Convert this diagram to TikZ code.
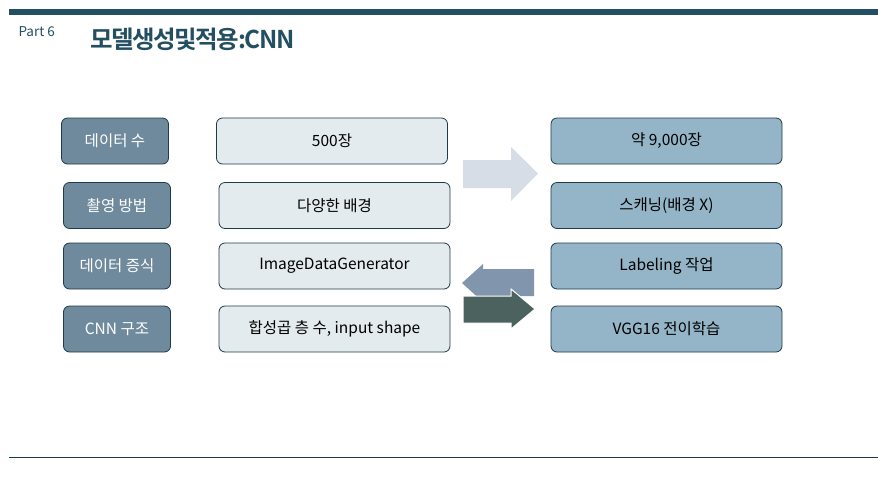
\documentclass[tikz,border=0pt]{standalone}
\usepackage{fontspec}
\setmainfont{Noto Sans CJK KR}[BoldFont=* Bold]
\usetikzlibrary{positioning}
\definecolor{barblue}{HTML}{244F62}
\definecolor{keybox}{HTML}{6E8A9C}
\definecolor{oldbox}{HTML}{E4EBEE}
\definecolor{newbox}{HTML}{93B5C7}
\definecolor{edge}{HTML}{1F3A48}
\definecolor{paleshaft}{HTML}{D6DDE6}
\definecolor{backshaft}{HTML}{8196AD}
\definecolor{fwdshaft}{HTML}{4B625F}

\begin{document}
\begin{tikzpicture}[x=1pt, y=-1pt,
	box/.style={draw=edge, line width=0.8pt, rounded corners=6pt, minimum height=46pt, font=\fontsize{15.5}{18}\selectfont},
	keybox/.style={box, fill=keybox, text=white, minimum width=107pt},
	oldbox/.style={box, fill=oldbox, text=black, minimum width=231pt},
	newbox/.style={box, fill=newbox, text=black, minimum width=231pt}]
			%%%%% START %%%%%
			
			\useasboundingbox (0, 0) rectangle (878, 491);
			\fill[barblue] (9, 9) rectangle (878, 15);
			\node[text=barblue, font=\fontsize{13.5}{15}\selectfont, anchor=west] (part) at (15, 32) {Part 6};
			\node[text=barblue, font=\fontsize{24.5}{28}\bfseries\addfontfeatures{LetterSpace=-6}, anchor=west] (title) at (87, 39.5) {모델생성및적용:CNN};
			
			\node[keybox] (k1) at (115, 141) {데이터 수};
			\node[keybox] (k2) at (117, 205.5) {촬영 방법};
			\node[keybox] (k3) at (117, 266) {데이터 증식};
			\node[keybox] (k4) at (117, 329) {CNN 구조};
			
			\node[oldbox] (o1) at (332, 141) {500장};
			\node[oldbox] (o2) at (334.5, 205.5) {다양한 배경};
			\node[oldbox] (o3) at (334.5, 266) {ImageDataGenerator};
			\node[oldbox] (o4) at (334.5, 329) {합성곱 층 수, input shape};
			
			\node[newbox] (n1) at (666.5, 141) {약 9,000장};
			\node[newbox] (n2) at (666.5, 205.5) {스캐닝(배경 X)};
			\node[newbox] (n3) at (666.5, 266) {Labeling 작업};
			\node[newbox] (n4) at (666.5, 329) {VGG16 전이학습};
			
			% arrows
			\fill[paleshaft] (463, 160) -- (511, 160) -- (511, 147) -- (538, 173.5) -- (511, 201) -- (511, 188) -- (463, 188) -- cycle;
			\fill[backshaft] (534, 269) -- (483, 269) -- (483, 264) -- (462, 283) -- (483, 302) -- (483, 296) -- (534, 296) -- cycle;
			\draw[fwdshaft, fill=fwdshaft, draw=white, line width=1pt] (463, 296) -- (511, 296) -- (511, 289) -- (535, 309) -- (511, 329) -- (511, 323) -- (463, 323) -- cycle;
			
			\draw[edge, line width=1pt] (9, 457) -- (878, 457);
			
			%%%%% END %%%%%
\end{tikzpicture}
\end{document}
